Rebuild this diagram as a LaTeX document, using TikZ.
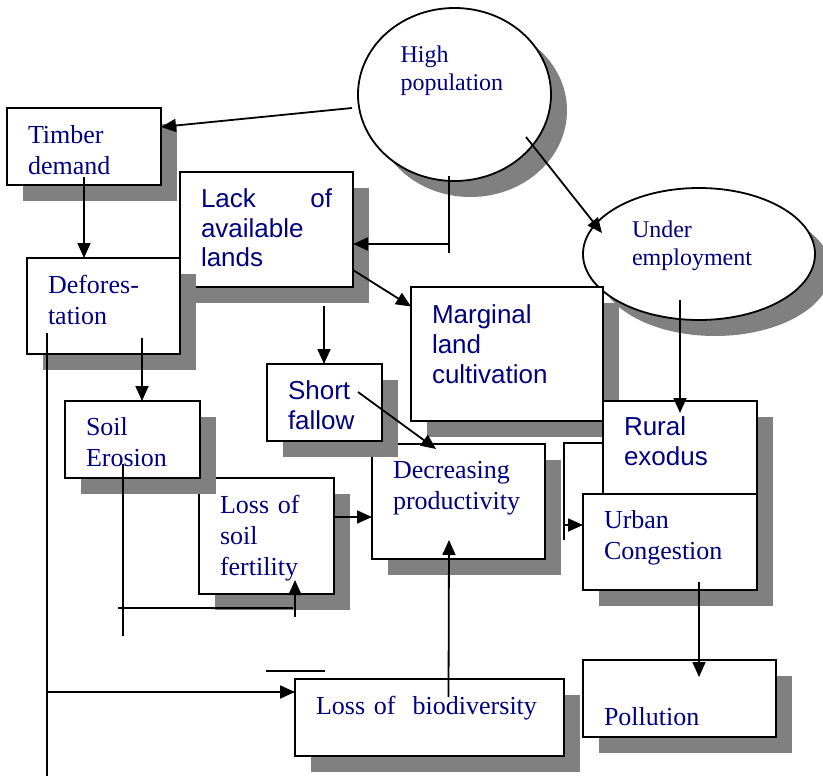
\documentclass[tikz,border=0pt]{standalone}
\usepackage{fontspec}
\setmainfont{Liberation Serif}
\setsansfont{Liberation Sans}
\usepackage{tikz}
\usetikzlibrary{shapes}
\usetikzlibrary{shadows}
\usetikzlibrary{arrows.meta}
\definecolor{textBlue}{RGB}{0,0,128}
\definecolor{shadowGrey}{RGB}{128,128,128}
\newcommand{\serifText}{\fontsize{26}{31}\selectfont}
\newcommand{\sansText}{\sffamily\fontsize{26}{30}\selectfont}
\newcommand{\bubbleText}{\fontsize{24}{28}\selectfont}
\tikzstyle{box} = [rectangle, draw=black, line width=1.8pt, fill=white,
        anchor=north west, inner ysep=0pt, inner xsep=21pt, outer sep=0pt,
        align=left, text=textBlue, font=\serifText,
        drop shadow={shadow xshift=16pt, shadow yshift=-16pt, fill=shadowGrey, opacity=1}]
\tikzstyle{bubble} = [ellipse, draw=black, line width=1.8pt, fill=white,
        inner sep=0pt, outer sep=0pt, align=left, text=textBlue, font=\bubbleText,
        drop shadow={shadow xshift=16pt, shadow yshift=-16pt, fill=shadowGrey, opacity=1}]
\tikzstyle{link} = [line width=1.8pt]
\tikzstyle{arrow} = [line width=1.8pt, -{Triangle[length=15pt,width=13pt]}]

\begin{document}
\begin{tikzpicture}[x=1pt, y=1pt]
        \useasboundingbox (0,0) rectangle (823,-776);
        \node [bubble, minimum width=193pt, minimum height=173pt, text width=108pt,
            text height=20pt, text depth=83pt] (population) at (454.5,-94.5) {High\\population};
        \node [bubble, minimum width=232pt, minimum height=132pt, text width=134pt,
            text height=20pt, text depth=54pt] (underemp) at (699,-254) {Under\\employment};
        \node [box, text width=112pt, text height=35pt, text depth=42pt] (timber) at (7,-108) {Timber\\demand};
        \node [box, font=\sansText, text width=131pt, text height=35pt, text depth=80pt] (lack) at (180,-172) {Lack \hfill of\\available\\lands};
        \node [box, text width=111pt, text height=35pt, text depth=61pt] (deforest) at (27,-258) {Defores-\\tation};
        \node [box, font=\sansText, text width=150pt, text height=36pt, text depth=98pt] (marginal) at (411,-287) {Marginal\\land\\cultivation};
        \node [box, text width=131pt, text height=34pt, text depth=81pt] (decrease) at (372,-444) {Decreasing\\productivity};
        \node [box, font=\sansText, text width=73pt, text height=35pt, text depth=42pt] (fallow) at (267,-364) {Short\\fallow};
        \node [box, text width=93pt, text height=35pt, text depth=81pt] (fertility) at (199,-478) {Loss of\\soil\\fertility};
        \node [box, text width=93pt, text height=34pt, text depth=43pt] (erosion) at (65,-401) {Soil\\Erosion};
        \node [box, font=\sansText, text width=112pt, text height=34pt, text depth=59pt] (rural) at (603,-401) {Rural\\exodus};
        \node [box, text width=132pt, text height=34pt, text depth=62pt] (urban) at (583,-494) {Urban\\Congestion};
        \node [box, text width=227pt, text height=35pt, text depth=42pt] (biodiv) at (295,-679) {Loss of\ \ biodiversity};
        \node [box, text width=151pt, text height=65pt, text depth=12pt] (pollution) at (583,-660) {Pollution};

        % population side
        \draw [arrow] ([xshift=-6pt,yshift=-13.5pt]population.west) -- ([yshift=19.5pt]timber.east);
        \draw [arrow] ([xshift=-5.5pt,yshift=5pt]population.south) coordinate (popfoot) |- ([yshift=-14.5pt]lack.east);
        \draw [link] (popfoot) -- ++(0,-77);
        \draw [arrow] ([xshift=71.5pt,yshift=-42.5pt]population.center) -- ([xshift=-97pt,yshift=21pt]underemp.center);
        \draw [arrow] ([yshift=8pt]timber.south) -- (timber.south |- deforest.north);

        % lack of lands
        \draw [arrow] ([yshift=-40.5pt]lack.east) -- ([yshift=47.5pt]marginal.west);
        \draw [arrow] ([xshift=57.5pt,yshift=-19pt]lack.south) coordinate (lackfoot) -- (lackfoot |- fallow.north);

        % deforestation
        \draw [arrow] ([xshift=-56.5pt,yshift=21pt]deforest.south) coordinate (deforfoot) |- ([yshift=25.5pt]biodiv.west);
        \draw [link] (deforfoot) -- ++(0,-443);
        \draw [arrow] ([xshift=38.5pt,yshift=16pt]deforest.south) coordinate (deforright) -- (deforright |- erosion.north);

        % erosion and fertility
        \draw [link] ([xshift=-9.5pt,yshift=14pt]erosion.south) -- ++(0,-172);
        \draw [link] ([xshift=-148.5pt,yshift=-14pt]fertility.south) -- ([xshift=26.5pt,yshift=-14pt]fertility.south);
        \draw [arrow] ([xshift=28.5pt,yshift=-23pt]fertility.south) -- ([xshift=28.5pt,yshift=14pt]fertility.south);
        \draw [arrow] ([yshift=19pt]fertility.east) coordinate (fertout) -- (fertout -| decrease.west);

        % into decreasing productivity
        \draw [arrow] ([xshift=33.5pt,yshift=10.5pt]fallow.center) -- ([xshift=-22.5pt,yshift=-5pt]decrease.north);
        \draw [arrow] ([xshift=19pt,yshift=-18pt]biodiv.north) -- ([xshift=-9.5pt,yshift=19pt]decrease.south);
        \draw [link] ([xshift=-29pt,yshift=8pt]biodiv.north west) -- ++(59,0);

        % under employment side
        \draw [arrow] ([xshift=-19pt,yshift=20pt]underemp.south) -- ([yshift=-12pt]rural.north);
        \draw [link] ([yshift=4.5pt]rural.west) -- ++(-39,0) -- ++(0,-97);
        \draw [arrow] ([xshift=-19pt,yshift=17pt]urban.west) -- ([yshift=17pt]urban.west);
        \draw [arrow] ([xshift=29pt,yshift=8pt]urban.south) -- ([xshift=19.5pt,yshift=-17pt]pollution.north);
\end{tikzpicture}
\end{document}
